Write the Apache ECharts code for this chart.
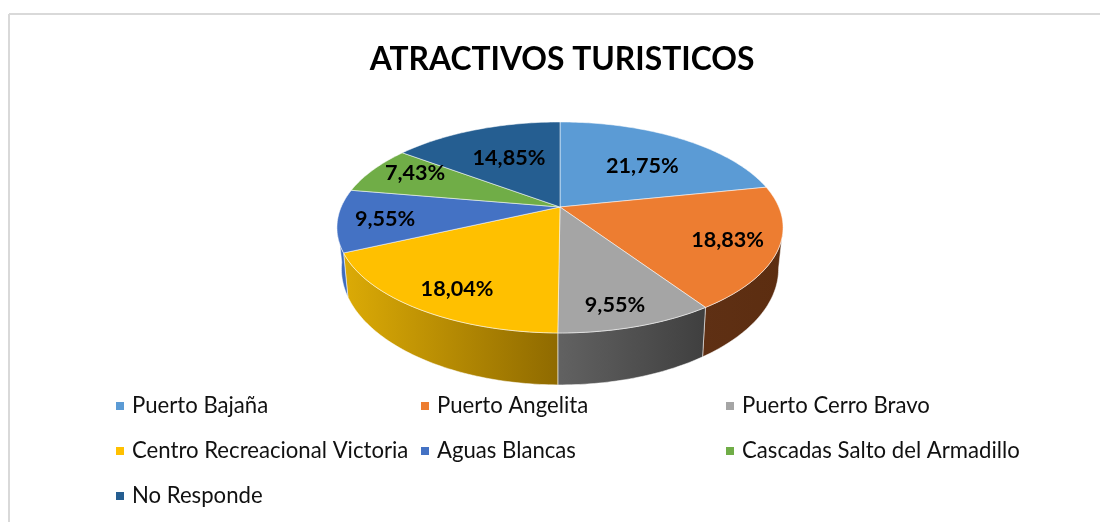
<!DOCTYPE html>
<html>
<head>
<meta charset="utf-8">
<style>html,body{margin:0;background:#fff}#chart{width:1100px;height:522px}</style>
<script src="https://cdn.jsdelivr.net/npm/echarts@6/dist/echarts.min.js"></script>
</head>
<body>
<div id="chart"></div>
<script>
const names = ['Puerto Bajaña', 'Puerto Angelita', 'Puerto Cerro Bravo', 'Centro Recreacional Victoria', 'Aguas Blancas', 'Cascadas Salto del Armadillo', 'No Responde'];
const shares = [21.75, 18.83, 9.55, 18.04, 9.55, 7.43, 14.85];
const colors = ['#5b9bd5', '#ed7d31', '#a5a5a5', '#ffc000', '#4472c4', '#70ad47', '#255e91'];

// rim colours of the slices that face the viewer, left to right
const sideColors = [null, ['#5f3014', '#5c2d10'], ['#626262', '#3f3f3f'], ['#dcab06', '#8f6a00'], ['#3f6cbc', '#3f6cbc'], null, null];
const labelRadius = [0.61, 0.78, 0.834, 0.80, 0.79, 0.80, 0.603];
const labelShift = [3, 0, 2, -2.3, 0, 4.3, 1.4];
const legendSpots = [[116, 406], [421, 406], [726, 406], [116, 451], [421, 451], [726, 451], [116, 496]];

// tilted disc, projected with some perspective
const CX = 560, CY = 207, RX = 218.8, RY = 101.5, TILT = 0.194;
const DROP = 39.4, BASE_X = 0.98, BASE_Y = 1.1;
const RIM_FROM = 101, RIM_TO = 262;

function project(deg, r, base) {
  const a = deg * Math.PI / 180;
  const u = r * Math.sin(a), v = -r * Math.cos(a);
  const w = 1 - TILT * v;
  if (base) return [CX + BASE_X * RX * u / w, CY + DROP + BASE_Y * RY * v / w];
  return [CX + RX * u / w, CY + RY * v / w];
}

function arc(from, to, base) {
  const pts = [];
  const n = Math.max(2, Math.ceil(to - from));
  for (let i = 0; i <= n; i++) pts.push(project(from + (to - from) * i / n, 1, base));
  return pts;
}

const starts = shares.map((_, i) => shares.slice(0, i).reduce((s, v) => s + v, 0));
const edge = { stroke: 'rgba(255,255,255,0.65)', lineWidth: 0.8 };

function renderSlice(i) {
  return function (params, api) {
    const from = api.value(0) * 3.6;
    const to = from + api.value(1) * 3.6;
    const children = [];

    const a = Math.max(from, RIM_FROM), b = Math.min(to, RIM_TO);
    if (sideColors[i] && b > a) {
      children.push({
        type: 'polygon',
        shape: { points: arc(a, b, false).concat(arc(a, b, true).reverse()) },
        style: {
          ...edge,
          fill: new echarts.graphic.LinearGradient(0, 0, 1, 0, [
            { offset: 0, color: sideColors[i][0] },
            { offset: 1, color: sideColors[i][1] }
          ])
        }
      });
    }
    children.push({
      type: 'polygon',
      shape: { points: [[CX, CY]].concat(arc(from, to, false)) },
      style: { ...edge, fill: colors[i] }
    });
    const p = project((from + to) / 2 + labelShift[i], labelRadius[i], false);
    children.push({
      type: 'text',
      z2: 100,
      style: {
        x: p[0], y: p[1] + 1,
        text: api.value(1).toFixed(2).replace('.', ',') + '%',
        align: 'center', verticalAlign: 'middle',
        fontFamily: 'Lato', fontWeight: 'bold', fontSize: 21.6, fill: '#000'
      }
    });
    return { type: 'group', children };
  };
}

const chart = echarts.init(document.getElementById('chart'));
chart.setOption({
  animation: false,
  backgroundColor: '#fff',
  title: {
    text: 'ATRACTIVOS TURISTICOS',
    left: 557, top: 39, textAlign: 'center',
    textStyle: { fontFamily: 'Lato', fontWeight: 'bold', fontSize: 31.8, color: '#000' }
  },
  legend: names.map((name, i) => ({
    data: [name],
    left: legendSpots[i][0],
    top: legendSpots[i][1] - 13,
    padding: 0,
    selectedMode: false,
    icon: 'rect',
    itemWidth: 8,
    itemHeight: 8,
    textStyle: { fontFamily: 'Lato', fontSize: 22.15, color: '#111', padding: [0, 0, 0, 3], height: 26, lineHeight: 26 }
  })),
  graphic: [
    { type: 'line', silent: true, shape: { x1: 9, y1: 14, x2: 1100, y2: 14 }, style: { stroke: '#d9d9d9', lineWidth: 2 } },
    { type: 'line', silent: true, shape: { x1: 9, y1: 14, x2: 9, y2: 522 }, style: { stroke: '#d9d9d9', lineWidth: 2 } }
  ],
  series: names.map((name, i) => ({
    type: 'custom',
    name,
    coordinateSystem: 'none',
    silent: true,
    itemStyle: { color: colors[i] },
    renderItem: renderSlice(i),
    data: [[starts[i], shares[i]]]
  }))
});
</script>
</body>
</html>
